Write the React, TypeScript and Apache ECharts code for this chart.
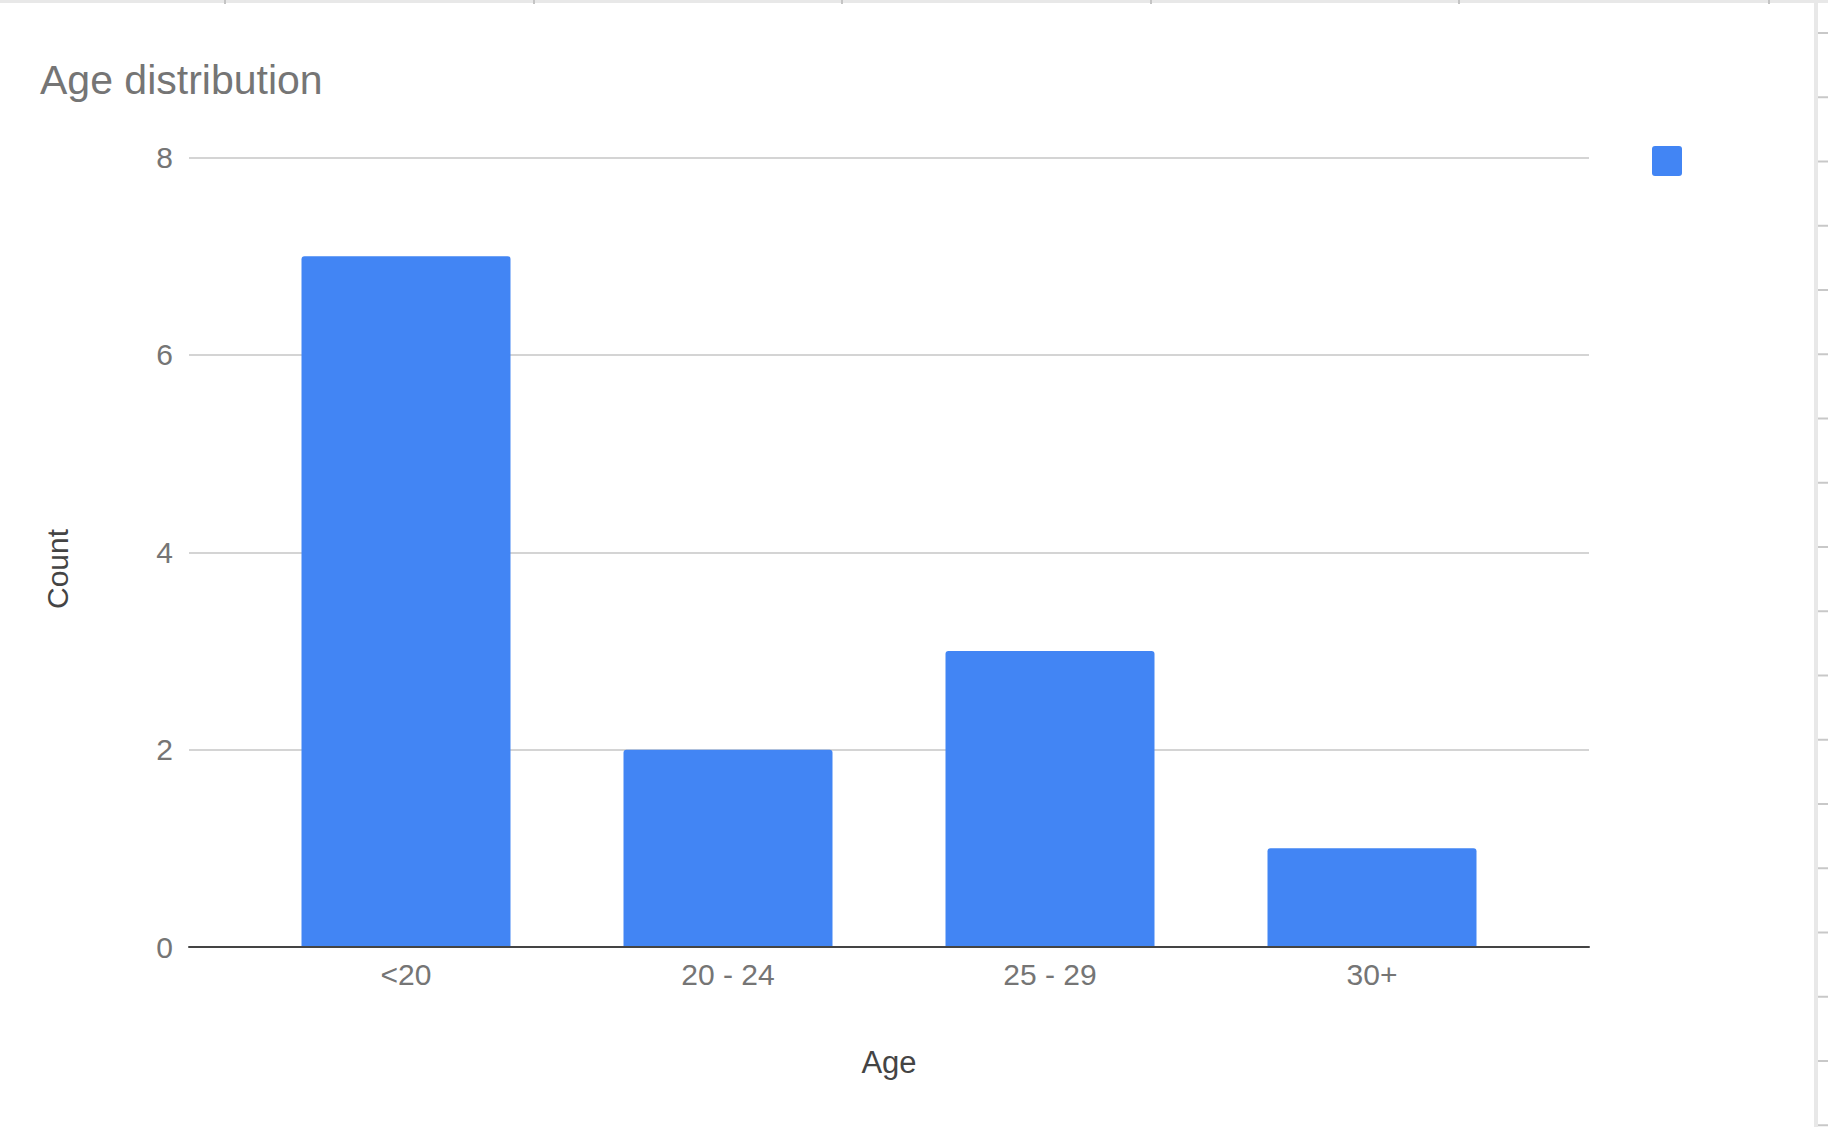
import React, { useEffect, useRef } from "react";
import * as echarts from "echarts";

// Age buckets and how many people fall in each
const categories = ["<20", "20 - 24", "25 - 29", "30+"];
const counts = [7, 2, 3, 1];

// Value axis range
const yMin = 0;
const yMax = 8;
const yStep = 2;

const FONT = "'Liberation Sans', Arial, Helvetica, sans-serif";
const BLUE = "#4285F4";

// square legend swatch with slightly rounded corners
const SWATCH = "path://M3,0H27Q30,0 30,3V27Q30,30 27,30H3Q0,30 0,27V3Q0,0 3,0Z";

export default function App() {
  const ref = useRef<HTMLDivElement>(null);

  useEffect(() => {
    if (!ref.current) return;
    const chart = echarts.init(ref.current, undefined, { renderer: "svg" });

    // sheet frame: column separators along the top, row separators on the right
    const frame: any[] = [
      { type: "rect", shape: { x: 0, y: 0, width: 1828, height: 3 }, style: { fill: "#e8e8e8" }, silent: true },
      { type: "rect", shape: { x: 1814, y: 0, width: 4, height: 1127 }, style: { fill: "#e8e8e8" }, silent: true },
    ];
    [225, 534, 842, 1151, 1459, 1769].forEach((x) =>
      frame.push({
        type: "line",
        shape: { x1: x, y1: 0, x2: x, y2: 4 },
        style: { stroke: "#c4c4c4", lineWidth: 2 },
        silent: true,
      })
    );
    for (let y = 33; y < 1127; y += 64.25) {
      frame.push({
        type: "line",
        shape: { x1: 1818, y1: y, x2: 1828, y2: y },
        style: { stroke: "#c8c8c8", lineWidth: 2 },
        silent: true,
      });
    }

    const plotTop = 157.5;
    const plotHeight = 789.5;

    chart.setOption({
      animation: false,
      backgroundColor: "#ffffff",
      textStyle: { fontFamily: FONT },
      title: {
        text: "Age distribution",
        left: 40,
        top: 59,
        padding: 0,
        textStyle: { fontSize: 41, fontWeight: "normal", color: "#757575", fontFamily: FONT },
      },
      legend: {
        data: ["Count"],
        formatter: () => "",
        left: 1652,
        top: 146,
        padding: 0,
        itemWidth: 30,
        itemHeight: 30,
        icon: SWATCH,
        selectedMode: false,
      },
      grid: [
        { left: 189, top: plotTop, width: 1400, height: plotHeight },
        { left: 245, top: plotTop, width: 1288, height: plotHeight },
      ],
      xAxis: [
        {
          gridIndex: 0,
          type: "category",
          data: [""],
          z: 5,
          axisLine: { show: true, lineStyle: { color: "#444444", width: 2 } },
          axisTick: { show: false },
          axisLabel: { show: false },
          name: "Age",
          nameLocation: "middle",
          nameGap: 100,
          nameTextStyle: { fontSize: 31, color: "#444444", fontFamily: FONT },
        },
        {
          gridIndex: 1,
          type: "category",
          data: categories,
          axisLine: { show: false },
          axisTick: { show: false },
          axisLabel: { fontSize: 30, color: "#757575", margin: 12, fontFamily: FONT },
        },
      ],
      yAxis: [
        {
          gridIndex: 0,
          type: "value",
          min: yMin,
          max: yMax,
          interval: yStep,
          axisLine: { show: false },
          axisTick: { show: false },
          axisLabel: { fontSize: 30, color: "#757575", margin: 16, fontFamily: FONT },
          splitLine: { lineStyle: { color: "#d4d4d4", width: 2 } },
        },
        {
          gridIndex: 1,
          type: "value",
          min: yMin,
          max: yMax,
          interval: yStep,
          show: false,
          splitLine: { show: false },
        },
      ],
      series: [
        {
          name: "Count",
          type: "bar",
          xAxisIndex: 1,
          yAxisIndex: 1,
          data: counts,
          barWidth: 209,
          itemStyle: { color: BLUE, borderRadius: [3, 3, 0, 0] },
        },
      ],
      graphic: [
        ...frame,
        {
          type: "text",
          x: 57,
          y: 569,
          rotation: Math.PI / 2,
          style: {
            text: "Count",
            fontSize: 30,
            fontFamily: FONT,
            fill: "#444444",
            align: "center",
            verticalAlign: "middle",
          },
        },
      ],
    });

    return () => chart.dispose();
  }, []);

  return (
    <div
      ref={ref}
      style={{ position: "fixed", left: 0, top: 0, width: 1828, height: 1127, background: "#fff" }}
    />
  );
}
